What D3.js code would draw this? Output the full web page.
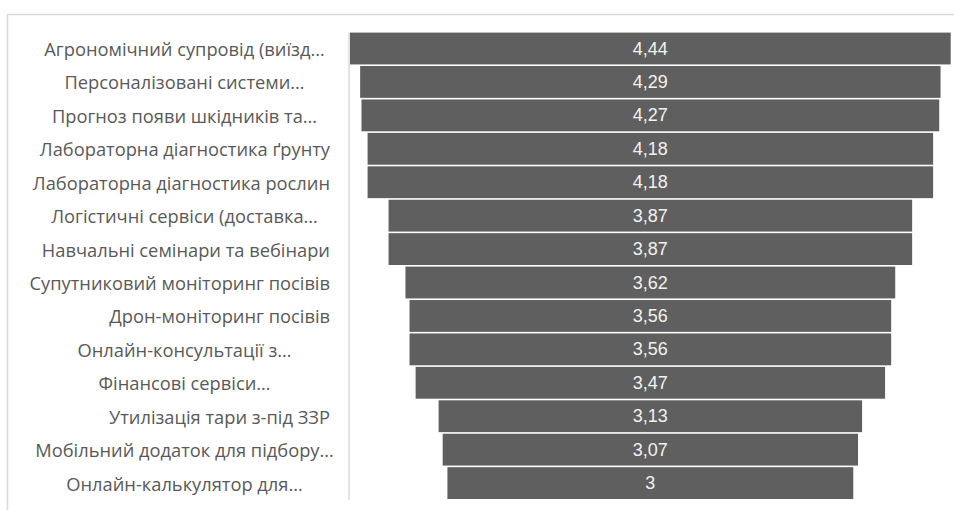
<!DOCTYPE html>
<html><head><meta charset="utf-8">
<script src="https://cdn.jsdelivr.net/npm/d3@7"></script>
<style>html,body{margin:0;padding:0;background:#fff;}svg{display:block;}</style>
</head><body>
<svg id="chart" width="954" height="510"></svg>
<script>
const categories = [
  "Агрономічний супровід (виїзд…",
  "Персоналізовані системи…",
  "Прогноз появи шкідників та…",
  "Лабораторна діагностика ґрунту",
  "Лабораторна діагностика рослин",
  "Логістичні сервіси (доставка…",
  "Навчальні семінари та вебінари",
  "Супутниковий моніторинг посівів",
  "Дрон-моніторинг посівів",
  "Онлайн-консультації з…",
  "Фінансові сервіси…",
  "Утилізація тари з-під ЗЗР",
  "Мобільний додаток для підбору…",
  "Онлайн-калькулятор для…"
];
const values = [4.44, 4.29, 4.27, 4.18, 4.18, 3.87, 3.87, 3.62, 3.56, 3.56, 3.47, 3.13, 3.07, 3];

const svg = d3.select("#chart");
const W = 954, H = 510;

// chart area frame
svg.append("rect").attr("x", 7.5).attr("y", 14.5).attr("width", W + 10).attr("height", H + 10)
  .attr("fill", "none").attr("stroke", "#d9d9d9").attr("stroke-width", 1.5);

const centerX = 650.35;
const y = d3.scaleBand().domain(categories).range([31.8, 499.8]).paddingInner(0.048).paddingOuter(0.024);
const w = d3.scaleLinear().domain([0, d3.max(values)]).range([0, 600.7]);

const data = categories.map((c, i) => ({c, v: values[i]}));

// axis line
svg.append("line").attr("x1", 349).attr("x2", 349).attr("y1", y.range()[0] + 0.8).attr("y2", y.range()[1])
  .attr("stroke", "#d9d9d9").attr("stroke-width", 1.5);

svg.append("g").selectAll("rect").data(data).join("rect")
  .attr("x", d => centerX - w(d.v) / 2)
  .attr("y", d => y(d.c))
  .attr("width", d => w(d.v))
  .attr("height", y.bandwidth())
  .attr("fill", "#5f5f5f");

const fmt = d3.formatLocale({decimal: ",", thousands: " ", grouping: [3], currency: ["", ""]}).format("~g");

svg.append("g").selectAll("text").data(data).join("text")
  .attr("x", centerX)
  .attr("y", d => y(d.c) + y.bandwidth() / 2)
  .attr("text-anchor", "middle")
  .attr("dominant-baseline", "central")
  .attr("font-family", "'Liberation Sans', Arial, sans-serif")
  .attr("font-size", 18)
  .attr("fill", "#f2f2f2")
  .text(d => fmt(d.v));

// category labels: truncated labels are centered in the label box, full ones right-aligned
svg.append("g").selectAll("text").data(data).join("text")
  .attr("x", d => d.c.endsWith("…") ? 184.5 : 330)
  .attr("y", d => y(d.c) + y.bandwidth() / 2)
  .attr("text-anchor", d => d.c.endsWith("…") ? "middle" : "end")
  .attr("dominant-baseline", "central")
  .attr("font-family", "'Open Sans', Lato, sans-serif")
  .attr("font-size", 18.3)
  .attr("fill", "#595959")
  .text(d => d.c);
</script>
</body></html>
